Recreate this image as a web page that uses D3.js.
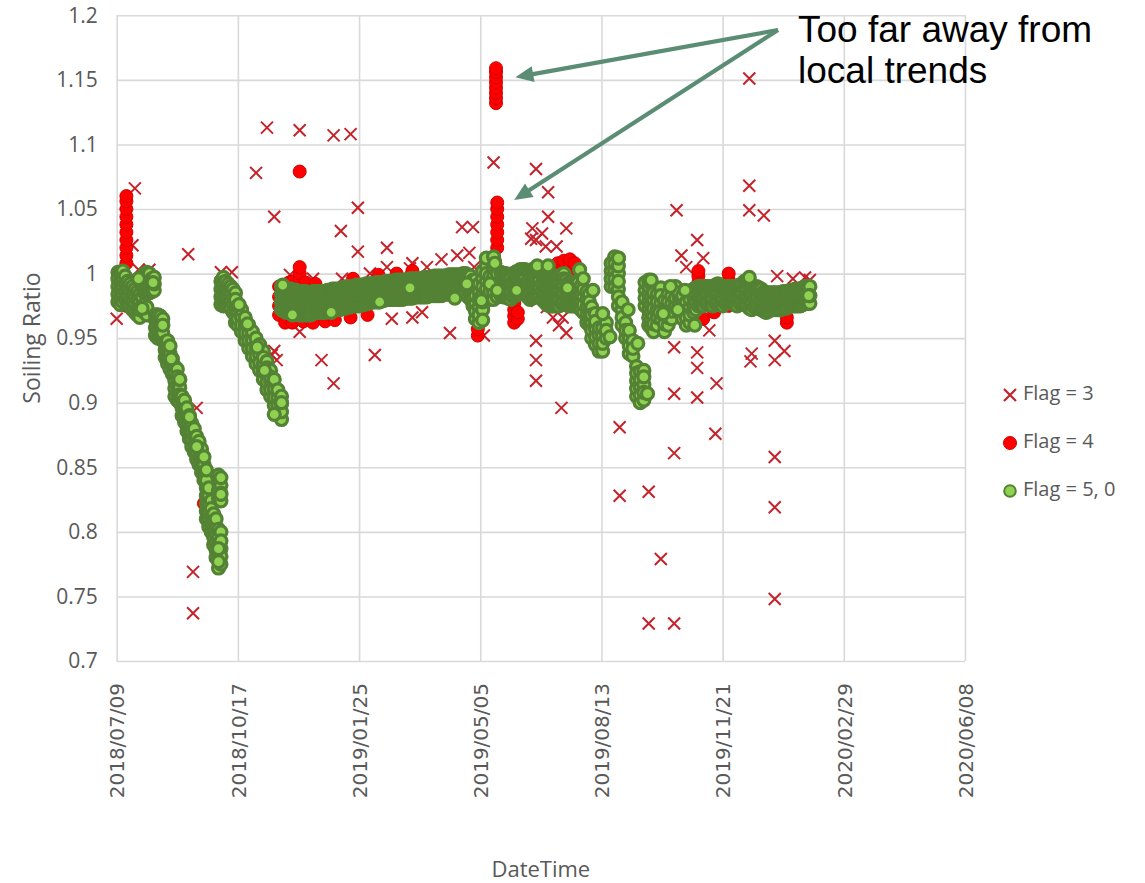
<!DOCTYPE html>
<html><head><meta charset="utf-8">
<script src="https://cdn.jsdelivr.net/npm/d3@7"></script>
<style>body{margin:0;background:#fff}svg{display:block}</style>
</head><body>
<svg id="chart" width="1145" height="883"></svg>
<script>
// ---------- DATA ----------
const xTickDates = ["2018-07-09","2018-10-17","2019-01-25","2019-05-05","2019-08-13","2019-11-21","2020-02-29","2020-06-08"];
const yTicks = [0.7,0.75,0.8,0.85,0.9,0.95,1,1.05,1.1,1.15,1.2];
const seriesNames = ["Flag = 3","Flag = 4","Flag = 5, 0"];
const xTitle = "DateTime";
const yTitle = "Soiling Ratio";
const noteLines = ["Too far away from","local trends"];
const noteTargets = [["2019-06-03",1.152],["2019-06-02",1.057]];

// Flag = 3 : [date, value]
const flag3 = [
["2018-07-09",0.965],["2018-07-22",1.022],["2018-07-24",1.066],["2018-07-27",1.003],["2018-08-05",1.003],
["2018-09-06",1.015],["2018-09-10",0.769],["2018-09-10",0.737],["2018-09-13",0.896],["2018-10-03",1.001],
["2018-10-12",1.001],["2018-11-01",1.078],["2018-11-10",1.113],["2018-11-14",0.937],["2018-11-16",1.044],
["2018-11-16",0.94],["2018-11-18",0.933],["2018-11-29",0.999],["2018-12-07",1.111],["2018-12-07",0.955],
["2018-12-18",0.996],["2018-12-25",0.933],["2019-01-04",1.107],["2019-01-04",0.915],["2019-01-10",1.033],
["2019-01-11",0.996],["2019-01-18",1.108],["2019-01-24",1.051],["2019-01-24",1.017],["2019-02-03",1.0],
["2019-02-07",0.937],["2019-02-17",1.02],["2019-02-17",1.005],["2019-02-21",0.965],["2019-03-08",1.004],
["2019-03-10",1.008],["2019-03-10",0.966],["2019-03-18",0.97],["2019-03-22",1.005],["2019-04-03",1.011],
["2019-04-10",0.954],["2019-04-16",1.014],["2019-04-20",1.036],["2019-04-26",1.016],["2019-04-29",1.036],
["2019-04-30",1.005],["2019-05-08",0.952],["2019-05-16",1.086],["2019-06-16",1.027],["2019-06-17",1.035],
["2019-06-20",1.081],["2019-06-20",1.026],["2019-06-20",0.948],["2019-06-20",0.933],["2019-06-20",0.917],
["2019-06-21",0.979],["2019-06-25",1.031],["2019-06-28",1.021],["2019-06-29",0.974],["2019-06-30",1.063],
["2019-06-30",1.044],["2019-07-04",0.966],["2019-07-07",1.021],["2019-07-09",0.96],["2019-07-11",0.896],
["2019-07-12",0.966],["2019-07-15",1.035],["2019-07-15",0.954],["2019-08-28",0.881],["2019-08-28",0.828],
["2019-09-21",0.831],["2019-09-21",0.729],["2019-09-30",0.96],["2019-10-01",0.779],["2019-10-12",0.943],
["2019-10-12",0.907],["2019-10-12",0.861],["2019-10-12",0.729],["2019-10-14",1.049],["2019-10-18",1.014],
["2019-10-22",1.005],["2019-10-31",1.026],["2019-10-31",0.939],["2019-10-31",0.927],["2019-10-31",0.904],
["2019-11-05",1.012],["2019-11-10",0.956],["2019-11-15",0.876],["2019-11-16",0.915],["2019-12-13",1.151],
["2019-12-13",1.068],["2019-12-13",1.049],["2019-12-14",0.932],["2019-12-15",0.938],["2019-12-25",1.045],
["2020-01-03",0.948],["2020-01-03",0.933],["2020-01-03",0.858],["2020-01-03",0.819],["2020-01-03",0.748],
["2020-01-05",0.998],["2020-01-11",0.94],["2020-01-18",0.996],["2020-01-28",0.997],["2020-02-01",0.995]
];

// Flag = 4 : [date, [values]]
const flag4 = [
["2018-07-17",[1.008,1.014,1.02,1.026,1.032,1.038,1.044,1.05,1.056,1.06]],
["2018-07-17",[0.975]],
["2018-09-19",[0.822]],
["2018-11-20",[0.968,0.975,0.982,0.99]],
["2018-11-25",[0.962]],["2018-11-28",[0.993]],["2018-12-01",[0.962,0.994]],
["2018-12-07",[1.079]],
["2018-12-07",[0.995,1.0,1.005]],
["2018-12-10",[0.963]],["2018-12-12",[0.993]],["2018-12-18",[0.962]],["2018-12-20",[0.992]],
["2018-12-28",[0.963]],["2019-01-05",[0.964]],["2019-01-18",[0.966]],["2019-01-20",[0.996]],
["2019-02-01",[0.968]],["2019-02-10",[0.999]],["2019-02-25",[1.0]],["2019-03-10",[1.002]],
["2019-05-03",[0.952,0.957]],
["2019-05-17",[1.005,1.01]],
["2019-05-18",[1.132,1.136,1.14,1.144,1.148,1.152,1.156,1.159]],
["2019-05-19",[1.02,1.026,1.032,1.038,1.044,1.05,1.055]],
["2019-06-02",[0.962,0.967,0.972,0.977,0.982]],
["2019-06-05",[0.965,0.97]],
["2019-07-08",[1.004,1.008]],["2019-07-13",[1.006,1.01]],["2019-07-18",[1.007,1.011]],["2019-07-22",[1.004,1.008]],
["2019-11-01",[0.983,0.988,0.993,0.998,1.002]],
["2019-11-05",[0.965]],["2019-11-14",[0.97]],
["2019-11-26",[0.975,0.98,0.985,0.99,0.995,1.0]],
["2019-12-22",[0.978]],["2020-01-13",[0.962,0.966]],["2020-01-25",[0.975]]
];

// Flag = 5 : [date, [values]]
const flag5 = [
["2018-07-10",[0.978,0.99,0.984,1.001,0.996]],
["2018-07-12",[0.976,0.988,0.982,1.0,0.994]],
["2018-07-14",[0.978,0.99,0.984,1.002,0.996]],
["2018-07-16",[0.98,0.992,0.986,0.998]],
["2018-07-18",[0.976,0.988,0.982,0.994]],
["2018-07-20",[0.975,0.986,0.98,0.992]],
["2018-07-22",[0.972,0.984,0.978,0.99]],
["2018-07-24",[0.97,0.982,0.976,0.988]],
["2018-07-26",[0.968,0.98,0.974,0.986]],
["2018-07-28",[0.966,0.978,0.972,0.984]],
["2018-07-30",[0.975,0.99,0.982,0.996]],
["2018-08-01",[0.97,0.985,0.976,0.995,0.99,1.0]],
["2018-08-03",[0.968,0.986,0.974,0.996,0.991,1.001]],
["2018-08-05",[0.985,0.995,0.99,1.0]],
["2018-08-07",[0.986,0.996,0.991]],
["2018-08-09",[0.987,0.997,0.992]],
["2018-08-10",[0.952,0.964,0.958,0.968]],
["2018-08-12",[0.95,0.962,0.956,0.968]],
["2018-08-14",[0.95,0.962,0.956,0.967]],
["2018-08-16",[0.948,0.96,0.954,0.965]],
["2018-08-18",[0.935,0.947,0.941]],
["2018-08-20",[0.93,0.942,0.936,0.948]],
["2018-08-22",[0.926,0.938,0.932,0.944]],
["2018-08-24",[0.922,0.934,0.928]],
["2018-08-26",[0.905,0.917,0.911,0.928,0.923]],
["2018-08-28",[0.902,0.914,0.908,0.926,0.92]],
["2018-08-30",[0.9,0.912,0.906,0.918]],
["2018-09-01",[0.89,0.902,0.896,0.905]],
["2018-09-03",[0.885,0.896,0.89,0.902]],
["2018-09-05",[0.878,0.89,0.884,0.896]],
["2018-09-07",[0.872,0.884,0.878,0.89]],
["2018-09-09",[0.866,0.878,0.872,0.884]],
["2018-09-11",[0.862,0.874,0.868,0.88]],
["2018-09-13",[0.856,0.868,0.862,0.874]],
["2018-09-15",[0.852,0.864,0.858,0.87]],
["2018-09-17",[0.846,0.858,0.852,0.864]],
["2018-09-19",[0.84,0.852,0.846,0.858]],
["2018-09-21",[0.81,0.822,0.816,0.834,0.828,0.846,0.84]],
["2018-09-23",[0.804,0.816,0.81,0.828,0.822,0.834]],
["2018-09-25",[0.8,0.812,0.806,0.824,0.818]],
["2018-09-27",[0.79,0.802,0.796,0.814,0.808]],
["2018-09-29",[0.78,0.792,0.786,0.804,0.798,0.81]],
["2018-10-01",[0.772,0.784,0.778,0.796,0.79,0.802,0.826,0.838,0.832,0.844]],
["2018-10-03",[0.775,0.787,0.781,0.8,0.793,0.824,0.836,0.83,0.842]],
["2018-10-03",[0.976,0.988,0.982,0.994]],
["2018-10-05",[0.975,0.987,0.981,0.997,0.993]],
["2018-10-07",[0.976,0.988,0.982,0.994]],
["2018-10-09",[0.975,0.987,0.981,0.992]],
["2018-10-11",[0.973,0.985,0.979,0.99]],
["2018-10-13",[0.97,0.982,0.976,0.988]],
["2018-10-15",[0.962,0.974,0.968,0.985,0.98]],
["2018-10-17",[0.96,0.97,0.965,0.975]],
["2018-10-20",[0.955,0.966,0.96,0.972]],
["2018-10-23",[0.948,0.96,0.954,0.966]],
["2018-10-26",[0.942,0.954,0.948,0.96]],
["2018-10-29",[0.936,0.948,0.942,0.955]],
["2018-11-01",[0.93,0.942,0.936,0.95]],
["2018-11-04",[0.925,0.937,0.931,0.945]],
["2018-11-07",[0.918,0.93,0.924,0.94,0.935]],
["2018-11-10",[0.91,0.922,0.916,0.932,0.927]],
["2018-11-13",[0.905,0.916,0.91,0.925,0.92]],
["2018-11-16",[0.898,0.91,0.904,0.918]],
["2018-11-19",[0.892,0.904,0.898,0.91]],
["2018-11-22",[0.887,0.899,0.893,0.905]],
["2018-11-22",[0.972,0.984,0.978,0.99]],
["2018-11-24",[0.971,0.983,0.977,0.989]],
["2018-11-26",[0.97,0.982,0.976,0.988]],
["2018-11-28",[0.97,0.982,0.976,0.988]],
["2018-11-30",[0.97,0.982,0.976,0.988]],
["2018-12-02",[0.969,0.981,0.975,0.987]],
["2018-12-04",[0.969,0.981,0.975,0.987]],
["2018-12-06",[0.968,0.98,0.974,0.986]],
["2018-12-08",[0.968,0.98,0.974,0.986]],
["2018-12-10",[0.968,0.98,0.974,0.986]],
["2018-12-12",[0.968,0.98,0.974,0.986]],
["2018-12-14",[0.968,0.98,0.974,0.985]],
["2018-12-16",[0.968,0.98,0.974,0.985]],
["2018-12-18",[0.969,0.981,0.975,0.986]],
["2018-12-20",[0.97,0.982,0.976,0.986]],
["2018-12-22",[0.97,0.982,0.976,0.986]],
["2018-12-24",[0.97,0.982,0.976,0.986]],
["2018-12-26",[0.97,0.982,0.976,0.986]],
["2018-12-28",[0.97,0.982,0.976,0.986]],
["2018-12-30",[0.971,0.983,0.977,0.987]],
["2019-01-01",[0.971,0.983,0.977,0.987]],
["2019-01-03",[0.972,0.984,0.978,0.988]],
["2019-01-05",[0.972,0.984,0.978,0.988]],
["2019-01-07",[0.972,0.984,0.978,0.988]],
["2019-01-09",[0.972,0.984,0.978,0.988]],
["2019-01-11",[0.973,0.985,0.979,0.989]],
["2019-01-13",[0.973,0.985,0.979,0.989]],
["2019-01-15",[0.974,0.986,0.98,0.99]],
["2019-01-17",[0.974,0.986,0.98,0.99]],
["2019-01-19",[0.975,0.987,0.981,0.99]],
["2019-01-21",[0.975,0.987,0.981,0.99]],
["2019-01-23",[0.975,0.987,0.981,0.991]],
["2019-01-25",[0.975,0.987,0.981,0.991]],
["2019-01-27",[0.976,0.988,0.982,0.991]],
["2019-01-29",[0.976,0.988,0.982,0.991]],
["2019-01-31",[0.977,0.989,0.983,0.992]],
["2019-02-02",[0.977,0.989,0.983,0.992]],
["2019-02-04",[0.978,0.99,0.984,0.992]],
["2019-02-06",[0.978,0.99,0.984,0.992]],
["2019-02-08",[0.978,0.99,0.984,0.993]],
["2019-02-10",[0.978,0.99,0.984,0.993]],
["2019-02-12",[0.979,0.99,0.985,0.993]],
["2019-02-14",[0.979,0.99,0.985,0.993]],
["2019-02-16",[0.98,0.991,0.986,0.994]],
["2019-02-18",[0.98,0.991,0.986,0.994]],
["2019-02-20",[0.98,0.991,0.986,0.994]],
["2019-02-22",[0.98,0.991,0.986,0.994]],
["2019-02-24",[0.98,0.992,0.986,0.995]],
["2019-02-26",[0.98,0.992,0.986,0.995]],
["2019-02-28",[0.98,0.992,0.986,0.995]],
["2019-03-02",[0.98,0.992,0.986,0.995]],
["2019-03-04",[0.981,0.992,0.987,0.995]],
["2019-03-06",[0.981,0.992,0.987,0.995]],
["2019-03-08",[0.981,0.993,0.987,0.996]],
["2019-03-10",[0.981,0.993,0.987,0.996]],
["2019-03-12",[0.982,0.993,0.988,0.996]],
["2019-03-14",[0.982,0.993,0.988,0.996]],
["2019-03-16",[0.982,0.993,0.988,0.996]],
["2019-03-18",[0.982,0.993,0.988,0.996]],
["2019-03-20",[0.982,0.994,0.988,0.997]],
["2019-03-22",[0.982,0.994,0.988,0.997]],
["2019-03-24",[0.983,0.994,0.989,0.997]],
["2019-03-26",[0.983,0.994,0.989,0.997]],
["2019-03-28",[0.983,0.995,0.989,0.998]],
["2019-03-30",[0.983,0.995,0.989,0.998]],
["2019-04-01",[0.983,0.995,0.989,0.998]],
["2019-04-03",[0.983,0.995,0.989,0.998]],
["2019-04-05",[0.984,0.995,0.99,0.998]],
["2019-04-07",[0.984,0.995,0.99,0.998]],
["2019-04-09",[0.984,0.996,0.99,0.999]],
["2019-04-11",[0.984,0.996,0.99,0.999]],
["2019-04-13",[0.985,0.996,0.99,0.999]],
["2019-04-15",[0.985,0.996,0.99,0.999]],
["2019-04-17",[0.985,0.996,0.991,0.999]],
["2019-04-19",[0.985,0.996,0.991,0.999]],
["2019-04-21",[0.985,0.996,0.991,1.0]],
["2019-04-23",[0.985,0.996,0.991,1.0]],
["2019-04-25",[0.982,0.994,0.988,0.999]],
["2019-04-27",[0.98,0.992,0.986,0.998]],
["2019-04-29",[0.975,0.987,0.981,0.995]],
["2019-05-01",[0.965,0.977,0.971,0.989,0.983,0.995]],
["2019-05-04",[0.962,0.974,0.968,0.986,0.98,0.992]],
["2019-05-07",[0.972,0.984,0.978,0.996,0.99,1.002]],
["2019-05-10",[0.982,0.994,0.988,1.006,1.0,1.012]],
["2019-05-13",[0.98,0.992,0.986,0.998]],
["2019-05-16",[0.98,0.992,0.986,1.005,0.998,1.013]],
["2019-05-19",[0.982,0.994,0.988,1.0]],
["2019-05-22",[0.983,0.995,0.989,1.001]],
["2019-05-24",[0.982,0.994,0.988,1.0]],
["2019-05-26",[0.982,0.994,0.988,1.0]],
["2019-05-28",[0.981,0.993,0.987,0.999]],
["2019-05-30",[0.98,0.992,0.986,0.998]],
["2019-06-01",[0.982,0.994,0.988,1.0]],
["2019-06-03",[0.983,0.995,0.989,1.001]],
["2019-06-05",[0.984,0.996,0.99,1.002]],
["2019-06-07",[0.985,0.997,0.991,1.003]],
["2019-06-09",[0.985,0.997,0.991,1.003]],
["2019-06-11",[0.985,0.997,0.991,1.003]],
["2019-06-13",[0.982,0.994,0.988,1.002]],
["2019-06-15",[0.98,0.992,0.986,1.002,0.998]],
["2019-06-17",[0.981,0.993,0.987,1.003,0.999]],
["2019-06-19",[0.982,0.994,0.988,1.003,1.0]],
["2019-06-21",[0.983,0.995,0.989,1.001]],
["2019-06-23",[0.983,0.995,0.989,1.001]],
["2019-06-25",[0.98,0.992,0.986,1.0]],
["2019-06-27",[0.978,0.99,0.984,1.0,0.996]],
["2019-06-29",[0.976,0.988,0.982,0.999,0.994]],
["2019-07-01",[0.975,0.987,0.981,0.999,0.993]],
["2019-07-03",[0.975,0.987,0.981,0.998,0.993]],
["2019-07-05",[0.975,0.987,0.981,0.998,0.993]],
["2019-07-07",[0.975,0.987,0.981,0.998,0.993]],
["2019-07-09",[0.975,0.987,0.981,0.998,0.993]],
["2019-07-11",[0.977,0.989,0.983,0.999,0.995]],
["2019-07-13",[0.978,0.99,0.984,1.0,0.996]],
["2019-07-15",[0.976,0.988,0.982,0.995]],
["2019-07-17",[0.975,0.987,0.981,0.993]],
["2019-07-19",[0.975,0.987,0.981,0.993]],
["2019-07-21",[0.975,0.987,0.981,0.993]],
["2019-07-23",[0.975,0.987,0.981,0.993]],
["2019-07-25",[0.975,0.987,0.981,0.993]],
["2019-07-27",[0.972,0.984,0.978,0.99]],
["2019-07-29",[0.97,0.982,0.976,0.988]],
["2019-08-01",[0.962,0.974,0.968,0.986,0.98]],
["2019-08-03",[0.96,0.972,0.966,0.984,0.978]],
["2019-08-05",[0.95,0.962,0.956,0.974,0.968]],
["2019-08-08",[0.945,0.957,0.951,0.969,0.963]],
["2019-08-11",[0.94,0.952,0.946,0.958]],
["2019-08-14",[0.94,0.952,0.946,0.958]],
["2019-08-17",[0.95,0.962,0.956]],
["2019-08-21",[0.99,1.002,0.996,1.008]],
["2019-08-24",[0.99,1.002,0.996,1.013,1.008]],
["2019-08-27",[0.975,0.988,0.982,1.0,0.994,1.012,1.006]],
["2019-08-30",[0.96,0.972,0.966,0.978]],
["2019-09-02",[0.95,0.962,0.956]],
["2019-09-05",[0.938,0.95,0.944,0.956]],
["2019-09-08",[0.936,0.948,0.942]],
["2019-09-11",[0.905,0.917,0.911,0.928,0.923]],
["2019-09-14",[0.9,0.912,0.906,0.924,0.918]],
["2019-09-17",[0.902,0.914,0.908,0.925,0.92]],
["2019-09-18",[0.975,0.987,0.981,0.993]],
["2019-09-21",[0.96,0.972,0.966,0.984,0.978,0.995,0.99]],
["2019-09-23",[0.958,0.97,0.964,0.982,0.976,0.992]],
["2019-09-25",[0.955,0.967,0.961,0.979,0.973,0.99,0.985]],
["2019-09-28",[0.96,0.972,0.966,0.984,0.978]],
["2019-10-01",[0.965,0.977,0.971,0.989,0.983]],
["2019-10-04",[0.955,0.967,0.961,0.979,0.973]],
["2019-10-07",[0.96,0.972,0.966,0.984,0.978]],
["2019-10-10",[0.965,0.977,0.971,0.989,0.983]],
["2019-10-13",[0.975,0.987,0.981,0.99]],
["2019-10-16",[0.97,0.982,0.976,0.985]],
["2019-10-19",[0.965,0.977,0.971,0.983]],
["2019-10-22",[0.96,0.972,0.966,0.978]],
["2019-10-25",[0.962,0.974,0.968,0.98]],
["2019-10-28",[0.97,0.982,0.976,0.988]],
["2019-10-30",[0.972,0.984,0.978,0.989]],
["2019-11-01",[0.975,0.987,0.981,0.99]],
["2019-11-03",[0.975,0.987,0.981,0.99]],
["2019-11-05",[0.975,0.987,0.981,0.99]],
["2019-11-07",[0.977,0.988,0.983,0.99]],
["2019-11-09",[0.978,0.99,0.984]],
["2019-11-11",[0.976,0.988,0.982,0.99]],
["2019-11-13",[0.975,0.987,0.981,0.99]],
["2019-11-15",[0.977,0.989,0.983,0.991]],
["2019-11-17",[0.978,0.99,0.984,0.992]],
["2019-11-19",[0.976,0.988,0.982,0.991]],
["2019-11-21",[0.975,0.987,0.981,0.99]],
["2019-11-23",[0.977,0.989,0.983]],
["2019-11-25",[0.978,0.99,0.984]],
["2019-11-27",[0.978,0.99,0.984]],
["2019-11-29",[0.978,0.99,0.984]],
["2019-12-01",[0.976,0.988,0.982,0.99]],
["2019-12-03",[0.975,0.987,0.981,0.99]],
["2019-12-05",[0.977,0.989,0.983,0.991]],
["2019-12-07",[0.978,0.99,0.984,0.992]],
["2019-12-09",[0.976,0.989,0.982,0.994]],
["2019-12-11",[0.975,0.987,0.981,0.995,0.993]],
["2019-12-13",[0.973,0.985,0.979,0.992]],
["2019-12-15",[0.972,0.984,0.978,0.99]],
["2019-12-17",[0.974,0.986,0.98,0.99]],
["2019-12-19",[0.975,0.987,0.981,0.99]],
["2019-12-21",[0.973,0.985,0.979,0.989]],
["2019-12-23",[0.972,0.984,0.978,0.988]],
["2019-12-25",[0.971,0.983,0.977,0.986]],
["2019-12-27",[0.97,0.982,0.976,0.985]],
["2019-12-29",[0.971,0.983,0.977,0.985]],
["2019-12-31",[0.972,0.985,0.978]],
["2020-01-02",[0.972,0.985,0.978]],
["2020-01-04",[0.972,0.985,0.978]],
["2020-01-06",[0.972,0.985,0.978]],
["2020-01-08",[0.972,0.985,0.978]],
["2020-01-10",[0.973,0.986,0.979]],
["2020-01-12",[0.973,0.986,0.979]],
["2020-01-14",[0.974,0.986,0.98]],
["2020-01-16",[0.975,0.987,0.981]],
["2020-01-18",[0.975,0.987,0.981]],
["2020-01-20",[0.975,0.988,0.981]],
["2020-01-22",[0.975,0.988,0.981]],
["2020-01-24",[0.975,0.988,0.981]],
["2020-01-26",[0.976,0.989,0.982]],
["2020-01-28",[0.977,0.99,0.983]],
["2020-01-30",[0.977,0.99,0.983]],
["2020-02-01",[0.977,0.99,0.983]]
];

// Flag = 0 : [date, value] (drawn last, same marker as Flag = 5)
const flag0 = [
["2018-07-27",0.996],["2018-07-30",0.973],["2018-08-08",0.993],["2018-08-16",0.96],["2018-08-23",0.934],
["2018-08-30",0.918],["2018-09-07",0.889],["2018-09-13",0.866],["2018-09-21",0.848],["2018-10-03",0.829],
["2018-10-01",0.787],["2018-10-01",0.777],["2018-10-18",0.976],["2018-10-25",0.961],["2018-11-02",0.943],
["2018-11-08",0.925],["2018-11-16",0.891],["2018-11-22",0.9],["2018-11-23",0.991],["2018-12-01",0.968],
["2019-01-02",0.97],["2019-02-11",0.978],["2019-03-08",0.989],["2019-04-14",0.981],["2019-04-24",0.992],
["2019-05-06",0.979],["2019-05-07",0.964],["2019-05-13",0.992],["2019-05-17",1.008],["2019-05-19",0.987],
["2019-06-04",0.987],["2019-06-21",1.006],["2019-06-30",1.006],["2019-07-16",0.989],["2019-07-26",1.003],
["2019-07-29",0.996],["2019-08-06",0.987],["2019-08-14",0.969],["2019-08-20",0.951],["2019-08-27",1.012],
["2019-09-04",0.972],["2019-09-12",0.946],["2019-09-20",0.907],["2019-09-23",0.995],["2019-09-30",0.97],
["2019-10-03",0.969],["2019-10-09",0.99],["2019-10-15",0.972],["2019-10-21",0.987],["2019-10-29",0.96],
["2019-12-13",0.997],["2020-01-31",0.983]
];

// ---------- CHART ----------
const parse = d3.utcParse("%Y-%m-%d");
const fmt = d3.utcFormat("%Y/%m/%d");
const plot = {left:116.7, right:965, top:15.3, bottom:661};
const svg = d3.select("#chart");

const x = d3.scaleUtc()
  .domain([parse(xTickDates[0]), parse(xTickDates[xTickDates.length-1])])
  .range([plot.left, plot.right]);
const y = d3.scaleLinear().domain([0.7,1.2]).range([plot.bottom, plot.top]);

const gridColor = "#D9D9D9", textColor = "#595959";

// y axis with gridlines
const yAxis = svg.append("g").attr("transform",`translate(${plot.left},0)`)
  .call(d3.axisLeft(y).tickValues(yTicks).tickSize(-(plot.right-plot.left)).tickSizeOuter(0).tickPadding(19).tickFormat(d=>String(d)));
yAxis.select(".domain").remove();
yAxis.selectAll(".tick line").attr("stroke",gridColor).attr("stroke-width",1.6);
yAxis.selectAll(".tick text").attr("fill",textColor).style("font-family","'Open Sans', sans-serif").style("font-size","21px");

// x axis with gridlines
const xAxis = svg.append("g").attr("transform",`translate(0,${plot.bottom})`)
  .call(d3.axisBottom(x).tickValues(xTickDates.map(parse)).tickSize(-(plot.bottom-plot.top)).tickSizeOuter(0).tickFormat(fmt));
xAxis.select(".domain").remove();
xAxis.selectAll(".tick line").attr("stroke",gridColor).attr("stroke-width",1.6);
xAxis.selectAll(".tick text")
  .attr("fill",textColor).style("font-family","'DejaVu Sans', sans-serif").style("font-size","20px")
  .attr("transform","rotate(-90)").attr("x",-22).attr("y",0).attr("dy","0.36em").style("text-anchor","end");

// axis titles
svg.append("text").attr("x",(plot.left+plot.right)/2).attr("y",871).attr("text-anchor","middle")
  .attr("dominant-baseline","middle").attr("fill",textColor)
  .style("font-family","'Open Sans', sans-serif").style("font-size","22px").text(xTitle);
svg.append("text").attr("transform","translate(34,338) rotate(-90)").attr("text-anchor","middle")
  .attr("dominant-baseline","middle").attr("fill",textColor)
  .style("font-family","'Open Sans', sans-serif").style("font-size","23px").text(yTitle);

// marks
const expand = arr => arr.flatMap(([d,vals]) => vals.map(v => ({date:parse(d), value:v})));
const pairs = arr => arr.map(([d,v]) => ({date:parse(d), value:v}));
const crossPath = "M-6,-6L6,6M-6,6L6,-6";
const crossColor = "#C4232B";

svg.append("g").selectAll("path").data(pairs(flag3)).join("path")
  .attr("d",crossPath).attr("transform",p=>`translate(${x(p.date)},${y(p.value)})`)
  .attr("stroke",crossColor).attr("stroke-width",2).attr("fill","none");

svg.append("g").selectAll("circle").data(expand(flag4)).join("circle")
  .attr("cx",p=>x(p.date)).attr("cy",p=>y(p.value)).attr("r",6.5)
  .attr("fill","#FF0000").attr("stroke","#D00000").attr("stroke-width",1);

svg.append("g").selectAll("circle").data(expand(flag5).concat(pairs(flag0))).join("circle")
  .attr("cx",p=>x(p.date)).attr("cy",p=>y(p.value)).attr("r",6)
  .attr("fill","#8FD150").attr("stroke","#548235").attr("stroke-width",3.2);

// legend
const lg = svg.append("g");
const legendY = [395,443,491];
lg.append("path").attr("d",crossPath).attr("transform",`translate(1010,${legendY[0]})`)
  .attr("stroke",crossColor).attr("stroke-width",2.2).attr("fill","none");
lg.append("circle").attr("cx",1010).attr("cy",legendY[1]).attr("r",6.5).attr("fill","#FF0000").attr("stroke","#D00000");
lg.append("circle").attr("cx",1010).attr("cy",legendY[2]).attr("r",5.8).attr("fill","#8FD150").attr("stroke","#548235").attr("stroke-width",2);
seriesNames.forEach((n,i)=>{
  lg.append("text").attr("x",1023).attr("y",legendY[i]).attr("dominant-baseline","middle")
    .attr("fill",textColor).style("font-family","'Open Sans', sans-serif").style("font-size","20px").text(n);
});

// annotation
const ann = svg.append("g");
const src = [778,30], arrowColor = "#5B8C74";
noteTargets.forEach(([d,v])=>{
  const tx = x(parse(d)), ty = y(v);
  const dx = tx-src[0], dy = ty-src[1], len = Math.hypot(dx,dy);
  const ux = dx/len, uy = dy/len, hl = 18, hw = 8;
  const bx = tx-ux*hl, by = ty-uy*hl;
  ann.append("line").attr("x1",src[0]).attr("y1",src[1]).attr("x2",bx+ux*3).attr("y2",by+uy*3)
    .attr("stroke",arrowColor).attr("stroke-width",4.2);
  ann.append("path").attr("d",`M${tx},${ty}L${bx-uy*hw},${by+ux*hw}L${bx+uy*hw},${by-ux*hw}Z`).attr("fill",arrowColor);
});
noteLines.forEach((t,i)=>{
  ann.append("text").attr("x",798).attr("y",42+i*41).attr("fill","#000")
    .style("font-family","'Liberation Sans', Arial, sans-serif").style("font-size","37px").text(t);
});
</script>
</body></html>
